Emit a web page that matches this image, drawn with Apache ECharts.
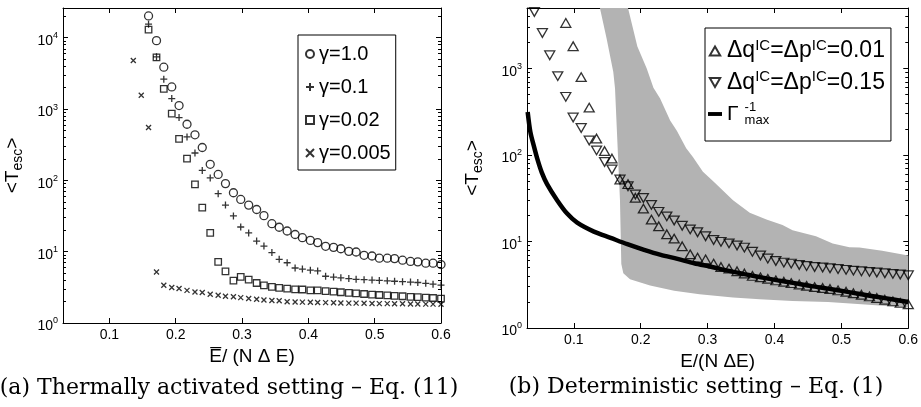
<!DOCTYPE html>
<html>
<head>
<meta charset="utf-8">
<script src="https://cdn.jsdelivr.net/npm/echarts@6/dist/echarts.min.js"></script>
<style>
  html, body { margin: 0; padding: 0; background: #fff; }
  #chart { width: 921px; height: 407px; }
</style>
</head>
<body>
<div id="chart"></div>
<script>
// ---- panel (a): thermally activated ----
const xLeft = [0.159, 0.171, 0.182, 0.194, 0.205, 0.217, 0.229, 0.240, 0.252, 0.264,
  0.275, 0.287, 0.298, 0.310, 0.322, 0.333, 0.345, 0.356, 0.368, 0.380,
  0.391, 0.403, 0.414, 0.426, 0.438, 0.449, 0.461, 0.472, 0.484, 0.496,
  0.507, 0.519, 0.530, 0.542, 0.554, 0.565, 0.577, 0.588, 0.600]
const xCross = [0.136, 0.148, 0.159, 0.171, 0.182, 0.194, 0.205, 0.217, 0.229, 0.240,
  0.252, 0.264, 0.275, 0.287, 0.298, 0.310, 0.322, 0.333, 0.345, 0.356,
  0.368, 0.380, 0.391, 0.403, 0.414, 0.426, 0.438, 0.449, 0.461, 0.472,
  0.484, 0.496, 0.507, 0.519, 0.530, 0.542, 0.554, 0.565, 0.577, 0.588, 0.600]
const tGamma1 = [20200, 9100, 3860, 2040, 1120, 612, 435, 289, 168, 121,
  90, 67, 54, 45, 39, 32, 24.7, 22, 19.5, 17.4,
  15.7, 14.4, 13.4, 11.9, 11.5, 11.0, 10.1, 9.9, 8.9, 8.7,
  8.1, 8.1, 8.0, 7.6, 7.3, 7.2, 6.9, 6.9, 6.6]
const tGamma01 = [15500, 5400, 2620, 1400, 760, 406, 242, 138, 108, 65,
  45, 31.7, 22.2, 18.3, 14.1, 12, 9.7, 7.8, 7.0, 5.9,
  5.7, 5.5, 5.37, 4.52, 4.4, 4.3, 4.2, 4.1, 4.05, 4.0,
  3.95, 3.9, 3.85, 3.8, 3.75, 3.7, 3.6, 3.5, 3.4]
const tGamma002 = [13000, 5300, 1920, 865, 382, 202, 87.6, 41.5, 18.3, 7.2,
  5.3, 3.93, 4.42, 4.06, 3.64, 3.38, 3.2, 3.1, 3.03, 2.97,
  2.95, 2.87, 2.87, 2.8, 2.75, 2.7, 2.65, 2.6, 2.55, 2.5,
  2.47, 2.44, 2.4, 2.37, 2.33, 2.3, 2.27, 2.24, 2.2]
const tGamma0005 = [4800, 1560, 550, 5.2, 3.38, 3.14, 3.04, 2.87, 2.72, 2.67,
  2.53, 2.45, 2.37, 2.33, 2.27, 2.2, 2.15, 2.1, 2.07, 2.05,
  1.99, 1.97, 1.96, 1.95, 1.94, 1.93, 1.92, 1.91, 1.9, 1.9,
  1.89, 1.88, 1.87, 1.87, 1.86, 1.86, 1.85, 1.85, 1.84, 1.84, 1.83]

// ---- panel (b): deterministic ----
const xRight = [0.041, 0.053, 0.064, 0.076, 0.088, 0.099, 0.111, 0.123, 0.134, 0.146,
  0.157, 0.169, 0.181, 0.192, 0.204, 0.216, 0.227, 0.239, 0.250, 0.262,
  0.274, 0.285, 0.297, 0.309, 0.320, 0.332, 0.344, 0.355, 0.367, 0.379,
  0.390, 0.402, 0.414, 0.425, 0.437, 0.448, 0.460, 0.472, 0.483, 0.495,
  0.507, 0.518, 0.530, 0.542, 0.553, 0.565, 0.577, 0.588, 0.600]
const tDq015 = [4500, 2570, 1420, 815, 470, 271, 205, 147, 113, 83,
  68, 52, 43.5, 35, 31.8, 26.5, 22, 19.5, 17.5, 15.2,
  13.8, 12.8, 11.5, 10.4, 9.9, 9.5, 9.0, 8.5, 7.6, 6.9,
  6.35, 5.95, 5.7, 5.55, 5.35, 5.2, 5.08, 5.0, 4.9, 4.8,
  4.7, 4.6, 4.52, 4.45, 4.38, 4.3, 4.22, 4.15, 4.07]
const xUp = xRight.slice(4)
const tDq001 = [3360, 1807, 795, 353, 155, 111, 91, 52, 46, 32,
  24, 17.9, 15, 12.1, 10.8, 8.8, 7.1, 6.5, 6.2, 5.55,
  5.07, 4.86, 4.52, 4.26, 4.0, 3.85, 3.7, 3.55, 3.42, 3.3,
  3.18, 3.07, 2.97, 2.9, 2.82, 2.72, 2.62, 2.52, 2.42, 2.32,
  2.22, 2.12, 2.03, 1.95, 1.88]
const xGamma = [0.031, 0.035, 0.040, 0.046, 0.052, 0.060, 0.075, 0.090, 0.105, 0.130,
  0.155, 0.180, 0.205, 0.230, 0.255, 0.280, 0.305, 0.330, 0.355, 0.380,
  0.405, 0.430, 0.455, 0.480, 0.505, 0.530, 0.555, 0.580, 0.600]
const tGammaMax = [314, 185, 129, 87, 63, 46, 30, 21, 16.5, 13,
  11, 9.3, 8.0, 7.0, 6.3, 5.6, 5.1, 4.6, 4.2, 3.85,
  3.55, 3.3, 3.05, 2.85, 2.65, 2.45, 2.28, 2.12, 2.0]
// grey band outline, clockwise from the top left corner
const bandX = [0.139, 0.181, 0.195, 0.209, 0.219, 0.229, 0.244, 0.254, 0.268, 0.278,
  0.293, 0.308, 0.338, 0.363, 0.388, 0.412, 0.427, 0.462, 0.487, 0.512,
  0.527, 0.561, 0.600, 0.600, 0.530, 0.480, 0.427, 0.378, 0.338, 0.288,
  0.250, 0.214, 0.184, 0.174, 0.171, 0.169, 0.166, 0.1616, 0.159, 0.149]
const bandY = [5000, 5000, 1800, 1000, 600, 450, 250, 190, 120, 95,
  64, 50, 30, 21.5, 18, 15.5, 13.5, 11.5, 9.5, 8.6,
  8.5, 7.8, 6.9, 1.72, 1.88, 2.0, 2.05, 2.15, 2.25, 2.45,
  2.7, 3.1, 3.65, 4.3, 5.5, 30, 100, 586, 910, 2220]

const zip = (xs, ys) => xs.map((x, i) => [x, ys[i]])

const font = 'Liberation Sans'
const black = '#000'
const hollow = 'rgba(0,0,0,0)'

const minorTicks = []
for (let k = 0; k < 5; k++) {
  for (let m = 2; m < 10; m++) minorTicks.push(m * Math.pow(10, k))
}

const powLabel = (v) => {
  const l = Math.log10(v)
  const e = Math.round(l)
  return Math.abs(l - e) < 1e-6 ? '{b|10}{s|' + e + '}' : ''
}

const tescName = '{a|<T}{b|esc}{a|>}'
const tescRich = {
  a: { fontFamily: font, fontSize: 19, lineHeight: 24, color: black },
  b: { fontFamily: font, fontSize: 14, lineHeight: 14, color: black, verticalAlign: 'bottom' }
}

function xAxisDef(gridIndex, position, name, nameGap) {
  return {
    gridIndex, type: 'value', position, min: 0.03, max: 0.6, splitNumber: 5,
    axisLine: { show: true, onZero: false, lineStyle: { color: black, width: 1 } },
    axisTick: { show: true, inside: true, length: 5, lineStyle: { color: black } },
    axisLabel: {
      show: position === 'bottom', color: black, fontFamily: font, fontSize: 14,
      margin: 5, showMinLabel: false
    },
    splitLine: { show: false },
    name: name || '', nameLocation: 'middle', nameGap: nameGap || 0,
    nameTextStyle: { fontFamily: font, fontSize: 19, color: black }
  }
}

function yAxisDef(gridIndex, position, max, nameGap) {
  const left = position === 'left'
  return {
    gridIndex, type: 'log', logBase: 10, position, min: 1, max, splitNumber: 5,
    axisLine: { show: true, lineStyle: { color: black, width: 1 } },
    axisTick: { show: true, inside: true, length: 5, lineStyle: { color: black } },
    axisLabel: {
      show: left, margin: 5, showMaxLabel: false, formatter: powLabel,
      padding: [7, 0, 0, 0],
      rich: {
        b: { fontFamily: font, fontSize: 14, lineHeight: 20, color: black },
        s: { fontFamily: font, fontSize: 9, lineHeight: 9, color: black, verticalAlign: 'top' }
      }
    },
    splitLine: { show: false },
    name: left ? tescName : '', nameLocation: 'middle', nameRotate: 90, nameGap: nameGap || 0,
    nameTextStyle: { fontFamily: font, fontSize: 19, color: black, rich: tescRich }
  }
}

function yMinorDef(gridIndex, position, max) {
  return {
    gridIndex, type: 'log', logBase: 10, position, min: 1, max,
    axisLine: { show: false },
    axisTick: { show: true, inside: true, length: 3, customValues: minorTicks, lineStyle: { color: black } },
    axisLabel: { show: false },
    splitLine: { show: false }
  }
}

const marker = (symbol, size) => ({
  type: 'scatter', symbol, symbolSize: size,
  itemStyle: { color: hollow, borderColor: black, borderWidth: 1.3 },
  emphasis: { disabled: true }, z: 3
})

const upTri = 'path://M5,0L10,8.66L0,8.66Z'
const downTri = 'path://M0,0L10,0L5,8.66Z'
const plusPath = 'path://M0,5L10,5M5,0L5,10'
const crossPath = 'path://M0,0L10,10M10,0L0,10'
const barPath = 'path://M0,0L18,0L18,5L0,5Z'

const legendRight = {
  'Δq=Δp=0.01': '{a|Δq}{s|IC}{a|=Δp}{s|IC}{a|=0.01}',
  'Δq=Δp=0.15': '{a|Δq}{s|IC}{a|=Δp}{s|IC}{a|=0.15}',
  'Γmax': '{g|Γ}{u|-1}{d|max}'
}

const option = {
  backgroundColor: '#fff',
  animation: false,
  grid: [
    { left: 63, top: 8, width: 378, height: 315 },
    { left: 527, top: 8, width: 383, height: 320 }
  ],
  xAxis: [
    xAxisDef(0, 'bottom', 'E\u0305/ (N Δ E)', 20),
    xAxisDef(0, 'top'),
    xAxisDef(1, 'bottom', 'E/(N ΔE)', 18),
    xAxisDef(1, 'top')
  ],
  yAxis: [
    yAxisDef(0, 'left', 26100, 38),
    yAxisDef(0, 'right', 26100),
    yMinorDef(0, 'left', 26100),
    yMinorDef(0, 'right', 26100),
    yAxisDef(1, 'left', 5000, 42),
    yAxisDef(1, 'right', 5000),
    yMinorDef(1, 'left', 5000),
    yMinorDef(1, 'right', 5000)
  ],
  legend: [
    {
      left: 298, top: 35, orient: 'vertical', selectedMode: false,
      data: ['γ=1.0', 'γ=0.1', 'γ=0.02', 'γ=0.005'],
      itemWidth: 8, itemHeight: 8, itemGap: 13,
      padding: [9, 5, 7, 7],
      borderColor: black, borderWidth: 1, backgroundColor: '#fff',
      textStyle: { fontFamily: font, fontSize: 20, color: black }
    },
    {
      left: 705, top: 28, orient: 'vertical', selectedMode: false,
      data: [
        { name: 'Δq=Δp=0.01', icon: upTri },
        { name: 'Δq=Δp=0.15', icon: downTri },
        { name: 'Γmax', icon: barPath }
      ],
      itemWidth: 14, itemHeight: 9, itemGap: 7,
      padding: [10, 6, 14, 3],
      borderColor: black, borderWidth: 1, backgroundColor: '#fff',
      formatter: (name) => legendRight[name],
      textStyle: {
        fontFamily: font, fontSize: 23, color: black,
        rich: {
          a: { fontFamily: font, fontSize: 23, lineHeight: 26, color: black },
          s: { fontFamily: font, fontSize: 15, lineHeight: 15, color: black, verticalAlign: 'top' },
          g: { fontFamily: font, fontSize: 21, lineHeight: 26, color: black },
          u: { fontFamily: font, fontSize: 13, lineHeight: 13, color: black, verticalAlign: 'top', width: 0, padding: [0, 0, 0, 6] },
          d: { fontFamily: font, fontSize: 13, lineHeight: 13, color: black, verticalAlign: 'bottom' }
        }
      }
    }
  ],
  series: [
    Object.assign(marker('circle', 8), { name: 'γ=1.0', xAxisIndex: 0, yAxisIndex: 0, data: zip(xLeft, tGamma1) }),
    Object.assign(marker(plusPath, 7), { name: 'γ=0.1', xAxisIndex: 0, yAxisIndex: 0, data: zip(xLeft, tGamma01) }),
    Object.assign(marker('rect', 6.5), { name: 'γ=0.02', xAxisIndex: 0, yAxisIndex: 0, data: zip(xLeft, tGamma002) }),
    Object.assign(marker(crossPath, 5), { name: 'γ=0.005', xAxisIndex: 0, yAxisIndex: 0, data: zip(xCross, tGamma0005) }),
    {
      type: 'custom', name: 'band', xAxisIndex: 2, yAxisIndex: 4, data: [0], z: 1,
      silent: true,
      renderItem: (params, api) => ({
        type: 'polygon',
        shape: { points: bandX.map((x, i) => api.coord([x, bandY[i]])) },
        style: { fill: '#b3b3b3', stroke: null }
      })
    },
    {
      name: 'Γmax', type: 'line', xAxisIndex: 2, yAxisIndex: 4, data: zip(xGamma, tGammaMax),
      showSymbol: false, symbol: 'none', smooth: 0.3, z: 2,
      itemStyle: { color: black },
      lineStyle: { color: black, width: 4.5 },
      emphasis: { disabled: true }
    },
    Object.assign(marker(upTri, [10, 8.7]), { name: 'Δq=Δp=0.01', xAxisIndex: 2, yAxisIndex: 4, data: zip(xUp, tDq001) }),
    Object.assign(marker(downTri, [10, 8.7]), { name: 'Δq=Δp=0.15', xAxisIndex: 2, yAxisIndex: 4, data: zip(xRight, tDq015) })
  ],
  graphic: [
    {
      type: 'text', x: 229, y: 388,
      style: {
        text: '(a) Thermally activated setting – Eq. (11)', font: '22px "DejaVu Serif"',
        fill: black, align: 'center', verticalAlign: 'middle', textAlign: 'center', textVerticalAlign: 'middle'
      }
    },
    {
      type: 'text', x: 696, y: 387,
      style: {
        text: '(b) Deterministic setting – Eq. (1)', font: '22px "DejaVu Serif"',
        fill: black, align: 'center', verticalAlign: 'middle', textAlign: 'center', textVerticalAlign: 'middle'
      }
    }
  ]
}

const chart = echarts.init(document.getElementById('chart'))
chart.setOption(option)
window.addEventListener('resize', () => chart.resize())
</script>
</body>
</html>
